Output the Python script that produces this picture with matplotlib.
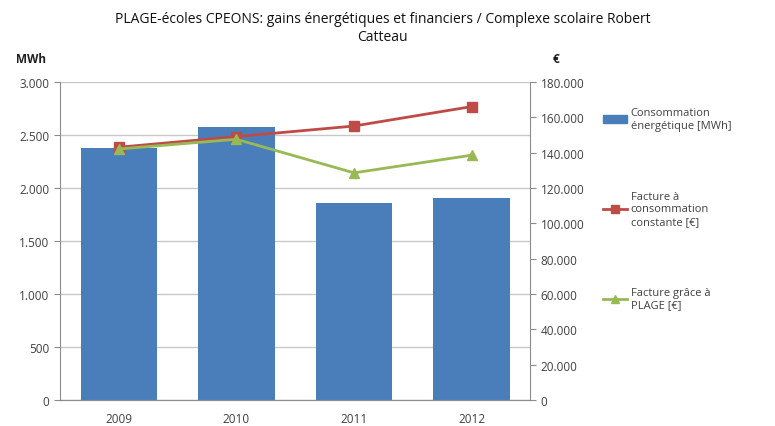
# PLAGE-écoles CPEONS: energy and financial gains, Complexe scolaire Robert Catteau

import matplotlib.pyplot as plt
import numpy as np
from matplotlib.ticker import FuncFormatter
from matplotlib.lines import Line2D
from matplotlib.patches import Patch

plt.rcParams['font.family'] = ['Open Sans', 'DejaVu Sans']

# --- Data ---
years = ['2009', '2010', '2011', '2012']
consommation_mwh = [2380, 2570, 1860, 1905]
facture_constante = [143000, 149000, 155000, 166000]
facture_plage = [142000, 147500, 128500, 138500]

blue = '#4a7ebb'
red = '#be4b48'
green = '#98b954'
txt = '#404040'


def dotted(v, pos):
    return f"{int(v):,}".replace(',', '.')


fig = plt.figure(figsize=(7.75, 4.27), dpi=100)
ax = fig.add_axes([0.0774, 0.061, 0.607, 0.745])
ax2 = ax.twinx()

x = np.arange(len(years))
ax.bar(x, consommation_mwh, width=0.65, color=blue, zorder=2)
ax.set_xlim(-0.5, len(years) - 0.5)
ax.set_ylim(0, 3000)
ax.set_yticks(np.arange(0, 3001, 500))
ax.yaxis.set_major_formatter(FuncFormatter(dotted))
ax.set_xticks(x)
ax.set_xticklabels(years)
ax.grid(axis='y', color='#c8c8c8', linewidth=1, zorder=0)
ax.set_axisbelow(True)

ax2.plot(x, facture_constante, color=red, marker='s', markersize=7, linewidth=2, zorder=3)
ax2.plot(x, facture_plage, color=green, marker='^', markersize=7, linewidth=2, zorder=4)
ax2.set_ylim(0, 180000)
ax2.set_yticks(np.arange(0, 180001, 20000))
ax2.yaxis.set_major_formatter(FuncFormatter(dotted))

for a in (ax, ax2):
    a.spines['top'].set_visible(False)
    for s in ('left', 'right', 'bottom'):
        a.spines[s].set_color('#8c8c8c')
    a.tick_params(colors='#8c8c8c', labelcolor=txt, labelsize=8.5, length=4)
ax.spines['right'].set_visible(False)
ax2.spines['left'].set_visible(False)
ax.tick_params(axis='x', length=0, pad=9)

fig.text(0.494, 0.955, "PLAGE-écoles CPEONS: gains énergétiques et financiers / Complexe scolaire Robert",
         ha='center', va='center', fontsize=10, color='#111111')
fig.text(0.494, 0.912, "Catteau", ha='center', va='center', fontsize=10, color='#111111')
fig.text(0.04, 0.86, "MWh", ha='center', va='center', fontsize=8.5, color='#202020', fontweight='bold')
fig.text(0.718, 0.86, "€", ha='center', va='center', fontsize=8.5, color='#202020', fontweight='bold')

handles = [Patch(color=blue),
           Line2D([], [], color=red, marker='s', markersize=6, linewidth=2),
           Line2D([], [], color=green, marker='^', markersize=6, linewidth=2)]
labels = ["Consommation\nénergétique [MWh]",
          "Facture à\nconsommation\nconstante [€]",
          "Facture grâce à\nPLAGE [€]"]
fig.legend(handles, labels, loc='upper left', bbox_to_anchor=(0.765, 0.77), frameon=False,
           fontsize=8, labelcolor=txt, handlelength=2.2, handletextpad=0.3, labelspacing=5.4)

fig.savefig("out.png", dpi=100)
